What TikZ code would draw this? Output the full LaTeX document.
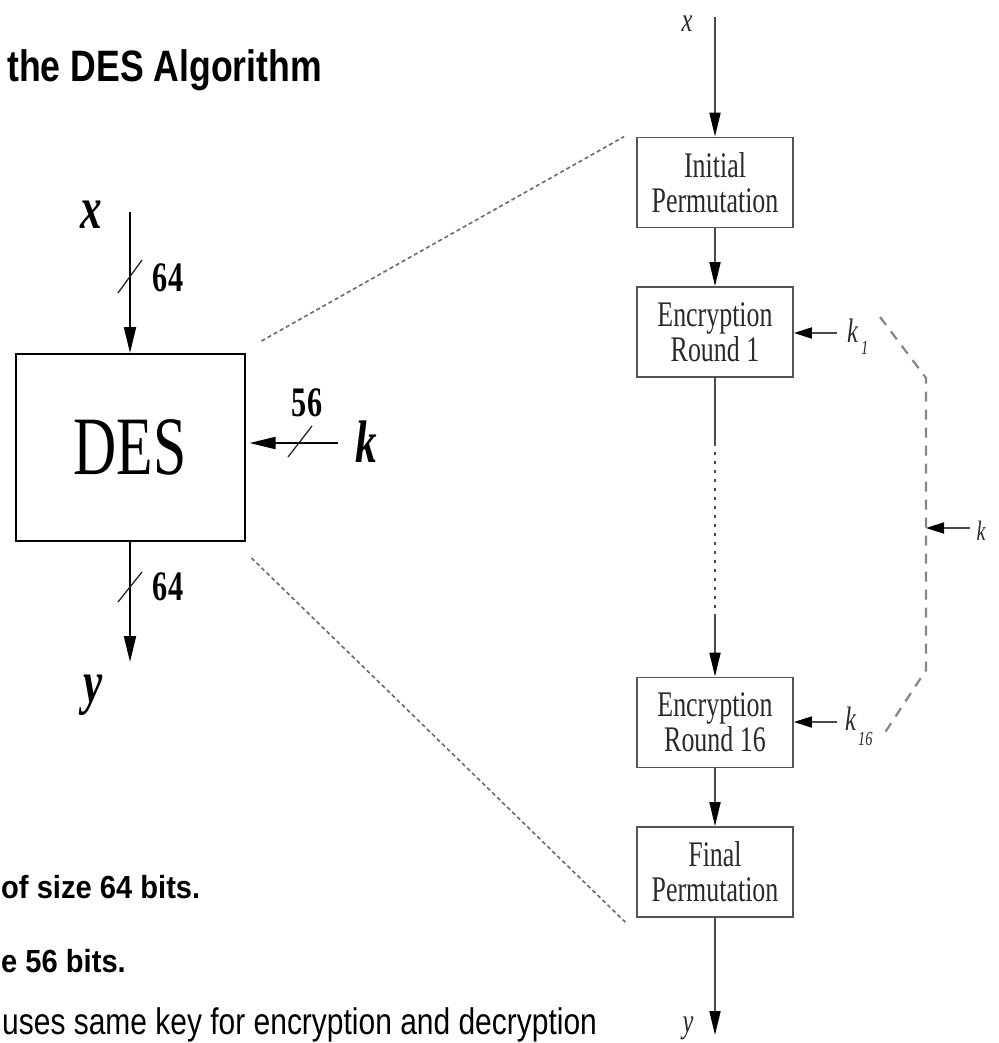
\documentclass[tikz,border=0pt]{standalone}
\usepackage{fontspec}
\usetikzlibrary{arrows.meta}
% narrow Times-like face for the block diagram, narrow Arial-like faces for the slide text
\newfontfamily\diagfont[FakeStretch=0.72]{Liberation Serif}
\newfontfamily\headfont[FakeStretch=0.81]{Liberation Sans}
\newfontfamily\notefont[FakeStretch=0.91]{Liberation Sans}
\newfontfamily\bodyfont[FakeStretch=0.81]{Liberation Sans}
\newcommand\fsz[1]{\fontsize{#1}{#1}\selectfont}
\definecolor{boxgray}{HTML}{555555}
\definecolor{flowgray}{HTML}{4A4A4A}
\definecolor{stagetext}{HTML}{2A2A2A}
\definecolor{busgray}{HTML}{858585}
\definecolor{zoomgray}{HTML}{6A6A6A}

\begin{document}
\begin{tikzpicture}[x=1pt,y=-1pt,
  ink/.style={line width=2pt, draw=black},
  inarrow/.style={ink, -{Triangle[length=26pt,width=12pt]}},
  slash/.style={line width=1.3pt, draw=black!85},
  bits/.style={inner sep=0pt, font=\diagfont\bfseries\fsz{42}},
  var/.style={inner sep=0pt, font=\diagfont\bfseries\itshape\fsz{60}},
  stage/.style={draw=boxgray, line width=1.8pt, minimum width=156pt,
    minimum height=90pt, inner sep=0pt, align=center, text=stagetext,
    font=\diagfont\fontsize{36}{35}\selectfont},
  flow/.style={draw=flowgray, line width=1.8pt},
  flowarrow/.style={flow, -{Triangle[length=24pt,width=11pt,color=black]}},
  keyarrow/.style={flow, -{Triangle[length=18pt,width=11pt,color=black]}},
  keybus/.style={draw=busgray, line width=2.2pt, dash pattern=on 10pt off 8pt},
  zoomline/.style={draw=zoomgray, line width=1.6pt, dash pattern=on 4pt off 3pt},
  rvar/.style={inner sep=0pt, font=\diagfont\itshape\fsz{34}, text=stagetext},
  sub/.style={inner sep=0pt, font=\diagfont\itshape\fsz{20}, text=stagetext},
  bullet/.style={inner sep=0pt, font=\notefont\bfseries\fsz{32}},
]
\useasboundingbox (0,0) rectangle (998,1043);
\clip (0,0) rectangle (998,1043);

% slide heading
\node[anchor=base west, inner sep=0pt, font=\headfont\bfseries\fsz{44}] (title) at (7,82) {the DES Algorithm};

% DES as a black box
\node[draw, line width=2pt, minimum width=229pt, minimum height=187pt,
  inner sep=0pt, font=\diagfont\fsz{83}] (des) at (130,447.5) {DES};

\coordinate (xtop) at (130,212);
\draw[inarrow] (xtop) -- (des.north);
\node[var] (xvar) at (91.5,215) {x};
\coordinate (xs) at (130,276.5);
\draw[slash] ([shift={(-12,16.5)}]xs) -- ([shift={(12,-16.5)}]xs);
\node[bits] (xbits) at (168,278) {64};

\coordinate (kstart) at (338,443);
\draw[inarrow, shorten >=4pt] (kstart) -- (kstart -| des.east);
\node[var] (kvar) at (366,441.5) {k};
\coordinate (ks) at (300,441.5);
\draw[slash] ([shift={(-12,15.5)}]ks) -- ([shift={(12,-15.5)}]ks);
\node[bits] (kbits) at (307,403) {56};

\coordinate (ybot) at (130,662);
\draw[inarrow] (des.south) -- (ybot);
\coordinate (ys) at (130,587);
\draw[slash] ([shift={(-12,15)}]ys) -- ([shift={(12,-15)}]ys);
\node[bits] (ybits) at (168,587) {64};
\node[var] (yvar) at (93,695) {y};

% internal structure
\node[stage] (ip)  at (715,182.5) {Initial\\Permutation};
\node[stage] (r1)  at (715,332)   {Encryption\\Round 1};
\node[stage] (r16) at (715,722.5) {Encryption\\Round 16};
\node[stage] (fp)  at (715,872)   {Final\\Permutation};

\coordinate (xin) at (715,17);
\draw[flowarrow] (xin) -- (ip.north);
\node[rvar] (xr) at (687,24) {x};
\draw[flowarrow] (ip.south) -- (r1.north);
\coordinate (gapa) at (715,443);
\coordinate (gapb) at (715,617);
\draw[flow] (r1.south) -- (gapa);
\draw[flow, line width=1.5pt, dash pattern=on 3pt off 6pt] (gapa) -- (gapb);
\draw[flowarrow] (gapb) -- (r16.north);
\draw[flowarrow] (r16.south) -- (fp.north);
\coordinate (yout) at (715,1035);
\draw[flowarrow] (fp.south) -- (yout);
\node[rvar] (yr) at (688,1028) {y};

% round keys
\coordinate (k1s) at (837,333);
\draw[keyarrow] (k1s) -- (k1s -| r1.east);
\node[rvar, anchor=base west] (k1) at (847,342) {k};
\node[sub, anchor=base west] (k1i) at (861,354) {1};
\coordinate (k16s) at (837,722);
\draw[keyarrow] (k16s) -- (k16s -| r16.east);
\node[rvar, anchor=base west] (k16) at (845,730) {k};
\node[sub, anchor=base west] (k16i) at (858,745) {16};

% key schedule bus
\coordinate (busa) at (880,317);
\coordinate (busb) at (926,378);
\coordinate (busc) at (926,670);
\coordinate (busd) at (882,737);
\draw[keybus] (busa) -- (busb) -- (busc) -- (busd);
\coordinate (kmain) at (970,528);
\coordinate (ktap) at (926,528);
\draw[keyarrow] (kmain) -- (ktap);
\node[rvar, font=\diagfont\itshape\fsz{28}] (kr) at (981,531) {k};

% zoom lines from the black box to its inside
\draw[zoomline] ([shift={(16,-12)}]des.north east) -- ([xshift=-12pt]ip.north west);
\draw[zoomline] ([shift={(6,16)}]des.south east) -- ([shift={(-10,5)}]fp.south west);

% bullet text
\node[bullet, anchor=base west] (n1) at (1,898) {of size 64 bits.};
\node[bullet, anchor=base west] (n2) at (1,972) {e 56 bits.};
\node[anchor=base west, inner sep=0pt, font=\bodyfont\fsz{37}] (n3) at (2,1034) {uses same key for encryption and decryption};
\end{tikzpicture}
\end{document}
